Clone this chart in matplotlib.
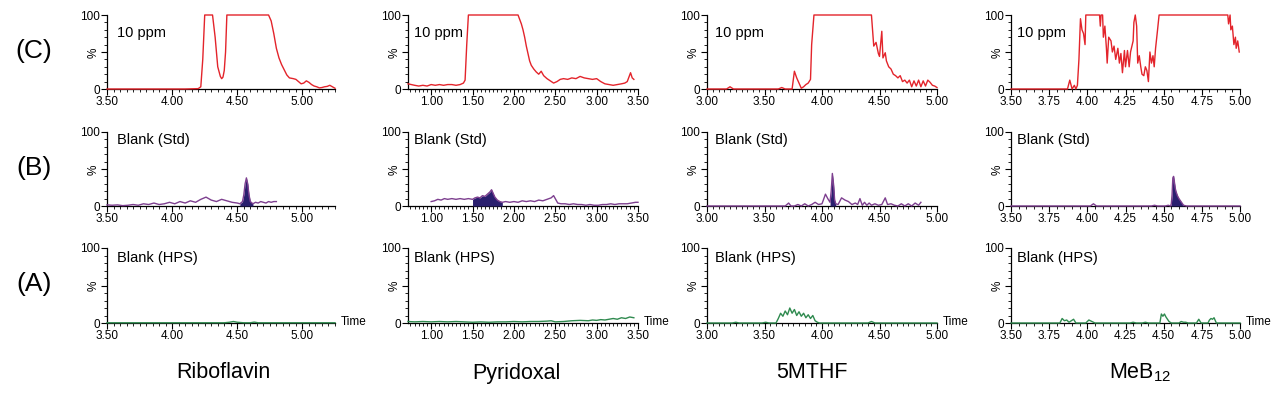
import matplotlib
matplotlib.use('Agg')
import matplotlib.pyplot as plt
from matplotlib.ticker import FixedLocator, MultipleLocator
import numpy as np

plt.rcParams['font.family'] = ['Liberation Sans', 'DejaVu Sans']
plt.rcParams['mathtext.fontset'] = 'custom'
plt.rcParams['mathtext.rm'] = 'Liberation Sans'

# ---------------- data ----------------
compounds = ['Riboflavin', 'Pyridoxal', '5MTHF', 'MeB$_{12}$']
row_labels = ['(C)', '(B)', '(A)']
panel_texts = ['10 ppm', 'Blank (Std)', 'Blank (HPS)']

xlims = [(3.5, 5.25), (0.72, 3.5), (3.0, 5.0), (3.5, 5.0)]
xticks_1 = [3.50, 4.00, 4.50, 5.00]
xticks_2 = [1.00, 1.50, 2.00, 2.50, 3.00, 3.50]
xticks_3 = [3.00, 3.50, 4.00, 4.50, 5.00]
xticks_4 = [3.50, 3.75, 4.00, 4.25, 4.50, 4.75, 5.00]
yticks = [0, 50, 100]
ytick_labels = ['0', '%', '100']

# Riboflavin
rib_10ppm_t = [3.50, 3.80, 4.10, 4.20, 4.22, 4.235, 4.25, 4.31, 4.33, 4.35, 4.37, 4.38, 4.39, 4.40, 4.41, 4.42,
               4.74, 4.76, 4.78, 4.80, 4.82, 4.84, 4.86, 4.88, 4.90, 4.93, 4.95, 4.97, 4.99, 5.01, 5.03, 5.05,
               5.07, 5.09, 5.11, 5.13, 5.15, 5.17, 5.19, 5.21, 5.23, 5.25]
rib_10ppm_y = [0, 0, 0, 0.5, 3, 40, 100, 100, 70, 30, 17, 14, 16, 25, 50, 100,
               100, 92, 75, 55, 42, 33, 26, 19, 15, 14, 13, 10, 7, 8, 11, 9,
               6, 4, 3, 1.5, 2, 3, 3.5, 5, 3, 1]
rib_std_t = [3.50, 3.54, 3.58, 3.62, 3.66, 3.70, 3.74, 3.78, 3.82, 3.86, 3.90, 3.94, 3.98, 4.02, 4.06, 4.10,
             4.14, 4.18, 4.22, 4.26, 4.30, 4.34, 4.38, 4.42, 4.46, 4.50, 4.52, 4.54, 4.55, 4.56, 4.57, 4.58,
             4.59, 4.60, 4.62, 4.64, 4.66, 4.68, 4.70, 4.72, 4.74, 4.76, 4.78, 4.80]
rib_std_y = [1.5, 1, 1.5, 0.5, 1, 2, 1, 3, 2, 4, 2, 3, 5, 3, 6, 4,
             7, 5, 9, 12, 8, 6, 9, 7, 5, 4, 3, 6, 15, 30, 38, 30,
             15, 6, 3, 5, 4, 6, 5, 4, 6, 5, 6, 6]
rib_std_peak = (4.52, 4.63)
rib_hps_t = [3.50, 4.40, 4.44, 4.47, 4.50, 4.55, 4.60, 4.63, 4.66, 4.70, 5.25]
rib_hps_y = [0.3, 0.3, 1, 2, 1, 0.3, 0.3, 1.2, 0.3, 0.3, 0.3]

# Pyridoxal
pyr_10ppm_t = [0.72, 0.76, 0.80, 0.85, 0.90, 0.95, 1.00, 1.05, 1.10, 1.15, 1.20, 1.25, 1.30, 1.35,
               1.39, 1.41, 1.43, 1.45, 2.05, 2.07, 2.09, 2.11, 2.13, 2.15, 2.17, 2.19, 2.21,
               2.24, 2.27, 2.30, 2.33, 2.36, 2.40, 2.44, 2.48, 2.52, 2.56, 2.60, 2.65, 2.70, 2.75,
               2.80, 2.85, 2.90, 2.95, 3.00, 3.05, 3.10, 3.15, 3.20, 3.25, 3.30, 3.34, 3.37, 3.39,
               3.41, 3.43, 3.45]
pyr_10ppm_y = [7, 6, 5, 4, 5, 4, 6, 5, 6, 5, 6, 6, 5, 6,
               8, 12, 60, 100, 100, 94, 88, 80, 70, 58, 48, 38, 32,
               27, 23, 20, 24, 18, 14, 11, 8, 10, 13, 14, 13, 15, 14,
               17, 15, 14, 13, 14, 10, 7, 6, 5, 6, 7, 8, 10, 16,
               22, 15, 13]
pyr_std_t = [1.00, 1.04, 1.08, 1.12, 1.16, 1.20, 1.25, 1.30, 1.35, 1.40, 1.45, 1.50, 1.53, 1.56, 1.59,
             1.62, 1.65, 1.68, 1.71, 1.73, 1.75, 1.77, 1.80, 1.83, 1.86, 1.90, 1.95, 2.00, 2.05, 2.10,
             2.15, 2.20, 2.25, 2.30, 2.35, 2.40, 2.45, 2.48, 2.50, 2.53, 2.57, 2.62, 2.67, 2.72, 2.77,
             2.82, 2.87, 2.92, 2.97, 3.02, 3.07, 3.12, 3.17, 3.22, 3.27, 3.32, 3.37, 3.42, 3.47, 3.50]
pyr_std_y = [6, 7, 9, 8, 10, 9, 10, 9, 10, 9, 10, 9, 11, 12, 11,
             14, 13, 16, 19, 22, 17, 12, 8, 6, 5, 6, 5, 6, 5, 7,
             6, 7, 6, 8, 7, 9, 11, 14, 10, 4, 3, 3, 2, 3, 2,
             2, 1, 2, 1, 1, 2, 2, 3, 2, 3, 3, 3, 4, 5, 5]
pyr_std_peak = (1.50, 1.86)
pyr_hps_t = [0.72, 0.80, 0.90, 1.00, 1.10, 1.20, 1.30, 1.40, 1.50, 1.60, 1.70, 1.80, 1.90, 2.00, 2.10,
             2.20, 2.30, 2.40, 2.45, 2.50, 2.60, 2.70, 2.80, 2.90, 2.95, 3.00, 3.05, 3.10, 3.15, 3.20,
             3.25, 3.30, 3.35, 3.40, 3.45]
pyr_hps_y = [2, 1.5, 2, 1.5, 2, 1.5, 2, 1.5, 1, 1.5, 1, 1.5, 1.5, 2, 1.5,
             2, 2, 2.5, 3, 1.5, 2, 3, 3.5, 3, 4, 3.5, 4.5, 4, 5, 6,
             5, 7, 6, 8, 7]

# 5MTHF
mthf_10ppm_t = [3.00, 3.17, 3.20, 3.23, 3.62, 3.65, 3.68, 3.74, 3.76, 3.78, 3.80, 3.82, 3.84, 3.86,
                3.88, 3.90, 3.91, 3.93, 4.43, 4.45, 4.47, 4.49, 4.50, 4.52, 4.53, 4.55, 4.56,
                4.58, 4.60, 4.62, 4.64, 4.66, 4.68, 4.70, 4.72, 4.74, 4.76,
                4.78, 4.80, 4.82, 4.84, 4.86, 4.88, 4.90, 4.92, 4.94, 4.96, 4.98, 5.00]
mthf_10ppm_y = [0, 0, 3, 0, 0, 2, 0, 0, 24, 15, 8, 1, 3, 6,
                8, 13, 60, 100, 100, 58, 63, 48, 44, 78, 42, 49, 38,
                30, 27, 20, 18, 15, 18, 10, 12, 8, 12,
                3, 11, 4, 12, 3, 11, 4, 12, 9, 5, 4, 2]
mthf_std_t = [3.00, 3.68, 3.71, 3.73, 3.76, 3.79, 3.82, 3.85, 3.88, 3.91,
              3.94, 3.97, 4.00, 4.03, 4.05, 4.07, 4.08, 4.09, 4.10, 4.11,
              4.12, 4.14, 4.17, 4.20, 4.23, 4.26, 4.29, 4.31, 4.33, 4.35,
              4.37, 4.39, 4.41, 4.43, 4.46, 4.49, 4.52, 4.55, 4.57, 4.60,
              4.63, 4.66, 4.69, 4.72, 4.75, 4.78, 4.81, 4.84, 4.86]
mthf_std_y = [0, 0, 4, 0, 0, 2, 0, 3, 0, 2,
              5, 2, 3, 16, 10, 5, 20, 44, 30, 8,
              3, 2, 11, 8, 6, 2, 4, 2, 10, 1,
              5, 1, 4, 1, 3, 1, 2, 11, 2, 3,
              1, 0, 3, 0, 3, 0, 4, 1, 5]
mthf_std_peak = (4.06, 4.12)
mthf_hps_t = [3.00, 3.22, 3.25, 3.28, 3.48, 3.51, 3.54, 3.60,
              3.62, 3.64, 3.66, 3.68, 3.70, 3.72, 3.74, 3.76, 3.78, 3.80, 3.82, 3.84, 3.86, 3.88,
              3.90, 3.92, 3.94, 3.96, 3.98, 4.40, 4.43, 4.46, 5.00]
mthf_hps_y = [0, 0, 1, 0, 0, 1, 0, 0,
              6, 13, 9, 16, 11, 20, 13, 18, 10, 15, 9, 13, 7, 11,
              6, 10, 3, 1, 0, 0, 2, 0, 0]

# MeB12
meb_10ppm_t = [3.50, 3.87, 3.885, 3.90, 3.915, 3.925, 3.935, 3.945, 3.955, 3.965,
               3.975, 3.985, 3.99, 4.00, 4.08, 4.085, 4.09, 4.10, 4.105, 4.115,
               4.125, 4.13, 4.14, 4.155, 4.164, 4.175, 4.186, 4.20, 4.21, 4.22,
               4.23, 4.243, 4.25, 4.263, 4.274, 4.283, 4.30, 4.305, 4.314, 4.323,
               4.33, 4.34, 4.35, 4.358, 4.37, 4.38, 4.39, 4.40, 4.41, 4.42,
               4.43, 4.438, 4.447, 4.46, 4.47, 4.92, 4.925, 4.935, 4.94, 4.95,
               4.96, 4.97, 4.975, 4.985, 4.995]
meb_10ppm_y = [0, 0, 12, 0, 5, 0, 5, 40, 95, 80,
               75, 60, 100, 100, 100, 85, 100, 100, 70, 85,
               55, 35, 70, 65, 50, 58, 40, 55, 35, 48,
               22, 52, 30, 52, 30, 50, 65, 90, 100, 85,
               35, 45, 30, 20, 18, 30, 25, 10, 50, 35,
               45, 30, 55, 80, 100, 100, 88, 100, 80, 85,
               60, 70, 55, 65, 50]
meb_std_t = [3.50, 4.02, 4.04, 4.06, 4.42, 4.44, 4.46, 4.51, 4.53, 4.545,
             4.55, 4.555, 4.56, 4.565, 4.57, 4.575, 4.58, 4.59, 4.60, 4.61,
             4.62, 4.63, 4.65, 5.00]
meb_std_y = [0, 0, 3, 0, 0, 1, 0, 0, 1, 0,
             3, 15, 38, 40, 33, 25, 20, 14, 10, 7,
             4, 1, 0, 0]
meb_std_peak = (4.545, 4.64)
meb_hps_t = [3.50, 3.82, 3.835, 3.85, 3.865, 3.88, 3.895, 3.91, 3.925, 3.94,
             3.99, 4.01, 4.03, 4.05, 4.28, 4.30, 4.32, 4.36, 4.38, 4.40,
             4.475, 4.485, 4.495, 4.505, 4.515, 4.525, 4.535, 4.55, 4.60, 4.615,
             4.63, 4.645, 4.66, 4.715, 4.73, 4.745, 4.79, 4.80, 4.81, 4.82,
             4.83, 4.845, 5.00]
meb_hps_y = [0, 0, 6, 3, 4, 1, 3, 5, 0, 0,
             0, 4, 2, 0, 0, 1, 0, 0, 1, 0,
             0, 12, 9, 12, 8, 5, 2, 0, 0, 2,
             1, 1, 0, 0, 5, 0, 0, 4, 6, 5,
             7, 0, 0]

# ---------------- styling / layout ----------------
RED = '#e3242b'
PURPLE = '#7d3f8f'
NAVY = '#2a1f6e'
GREEN = '#2f8a4f'

W, H = 1280, 397
col_px = [(107, 335), (408, 638), (707, 937), (1011, 1240)]
row_px = [(15, 89), (132, 206), (248, 323)]
text_dx = [10, 6, 8, 6]
text_dy = [18, 8, 10]
name_x = [223, 516, 812, 1140]

series = [
    [(rib_10ppm_t, rib_10ppm_y, None), (rib_std_t, rib_std_y, rib_std_peak), (rib_hps_t, rib_hps_y, None)],
    [(pyr_10ppm_t, pyr_10ppm_y, None), (pyr_std_t, pyr_std_y, pyr_std_peak), (pyr_hps_t, pyr_hps_y, None)],
    [(mthf_10ppm_t, mthf_10ppm_y, None), (mthf_std_t, mthf_std_y, mthf_std_peak), (mthf_hps_t, mthf_hps_y, None)],
    [(meb_10ppm_t, meb_10ppm_y, None), (meb_std_t, meb_std_y, meb_std_peak), (meb_hps_t, meb_hps_y, None)],
]
xticks_all = [xticks_1, xticks_2, xticks_3, xticks_4]
row_colors = [RED, PURPLE, GREEN]

fig = plt.figure(figsize=(12.8, 3.97), dpi=100)

for c in range(4):
    l, r = col_px[c]
    for rr in range(3):
        t0, b0 = row_px[rr]
        ax = fig.add_axes([l / W, 1 - b0 / H, (r - l) / W, (b0 - t0) / H])
        t, y, peak = series[c][rr]
        t = np.asarray(t, float)
        y = np.asarray(y, float)
        if peak is not None:
            mask = (t >= peak[0]) & (t <= peak[1])
            ax.fill_between(t, 0, y, where=mask, color=NAVY, lw=0, zorder=2.8, clip_on=False)
        ax.plot(t, y, color=row_colors[rr], lw=1.0, zorder=3, clip_on=False)
        ax.set_xlim(*xlims[c])
        ax.set_ylim(0, 100)
        for s in ['top', 'right']:
            ax.spines[s].set_visible(False)
        for s in ['left', 'bottom']:
            ax.spines[s].set_linewidth(0.9)
        ax.xaxis.set_major_locator(FixedLocator(xticks_all[c]))
        ax.set_xticklabels(['%.2f' % v for v in xticks_all[c]])
        ax.xaxis.set_minor_locator(MultipleLocator(0.05))
        ax.yaxis.set_major_locator(FixedLocator(yticks))
        ax.set_yticklabels(ytick_labels)
        ax.yaxis.set_minor_locator(MultipleLocator(10))
        ax.get_yticklabels()[1].set_rotation(90)
        ax.tick_params(which='major', direction='out', length=4, width=0.8, labelsize=8.5, pad=1)
        ax.tick_params(which='minor', direction='out', length=2.2, width=0.6)
        ax.text(text_dx[c] / (r - l), 1 - text_dy[rr] / (b0 - t0), panel_texts[rr],
                transform=ax.transAxes, ha='left', va='center', fontsize=10.5)
        if rr == 2:
            ax.annotate('Time', xy=(1, 0), xycoords='axes fraction', xytext=(4, 1),
                        textcoords='offset points', ha='left', va='center', fontsize=8.5)

for rr in range(3):
    t0, b0 = row_px[rr]
    fig.text(34 / W, 1 - ((t0 + b0) / 2 - 1) / H, row_labels[rr], fontsize=19, ha='center', va='center')

for c in range(4):
    fig.text(name_x[c] / W, 1 - 373 / H, compounds[c], fontsize=15.5, ha='center', va='center')

fig.savefig('out.png', dpi=100)
